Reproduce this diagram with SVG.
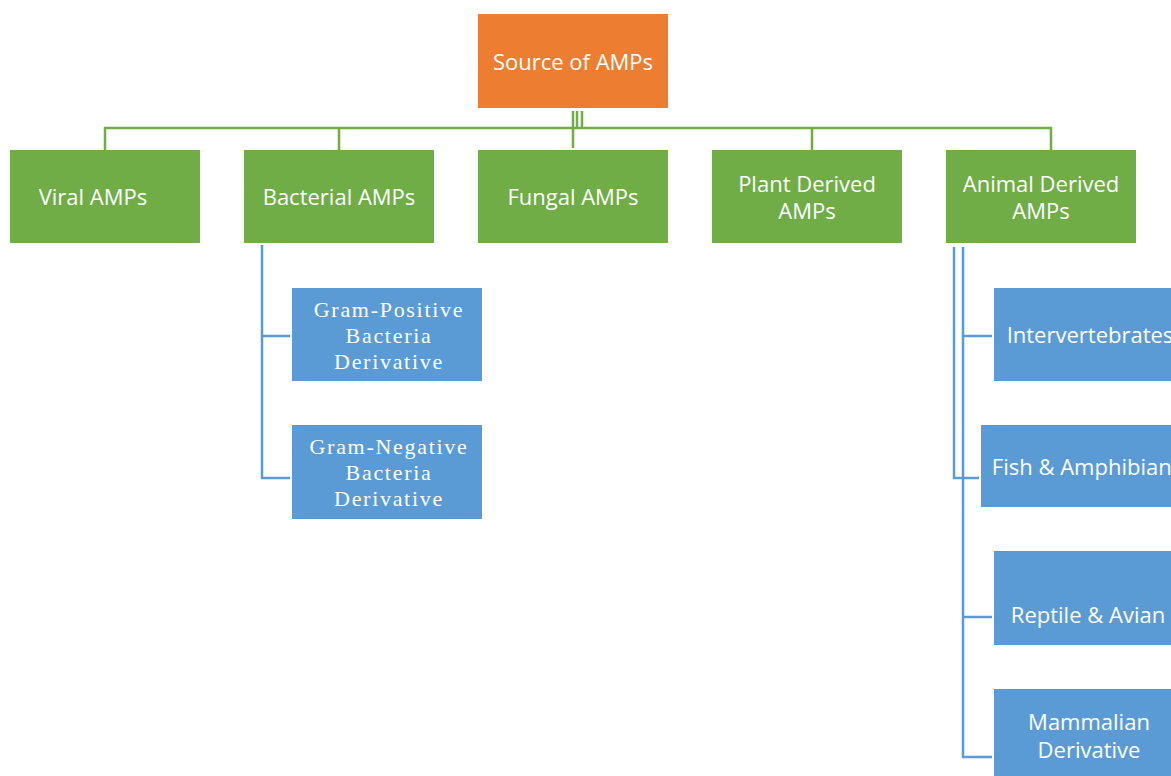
<svg xmlns="http://www.w3.org/2000/svg" width="1171" height="776" viewBox="0 0 1171 776">
<style>
.org{fill:#ED7D31}
.grn{fill:#70AD47}
.blu{fill:#5B9BD5}
.t{font-family:"Open Sans","Liberation Sans",sans-serif;font-size:22px;fill:#fff;text-anchor:middle;dominant-baseline:central}
.s{font-family:"Liberation Serif",serif;font-size:22px;fill:#fff;text-anchor:middle;letter-spacing:1.7px;dominant-baseline:central}
.gl{stroke:#70AD47;stroke-width:2.5;fill:none}
.bl{stroke:#5B9BD5;stroke-width:2.5;fill:none}
</style>
<rect width="1171" height="776" fill="#fff"/>
<g id="connectors">
<path class="gl" d="M573 111V128M577 111V128M582 111V128"/>
<path class="gl" d="M105 150V128H1051V150M339 128V150M573 128V148M812 128V150"/>
<path class="bl" d="M262 245V478H290M262 336H290"/>
<path class="bl" d="M954 247V478H979M963 247V757H992M963 336H992M963 617H992"/>
</g>
<g id="source"><rect class="org" x="478" y="14" width="190" height="94"/><text class="t" x="573" y="61">Source of AMPs</text></g>
<g id="viral"><rect class="grn" x="10" y="150" width="190" height="93"/><text class="t" x="93" y="196">Viral AMPs</text></g>
<g id="bacterial"><rect class="grn" x="244" y="150" width="190" height="93"/><text class="t" x="339" y="196">Bacterial AMPs</text></g>
<g id="fungal"><rect class="grn" x="478" y="150" width="190" height="93"/><text class="t" x="573" y="196">Fungal AMPs</text></g>
<g id="plant"><rect class="grn" x="712" y="150" width="190" height="93"/><text class="t" x="807" y="183">Plant Derived</text><text class="t" x="807" y="210">AMPs</text></g>
<g id="animal"><rect class="grn" x="946" y="150" width="190" height="93"/><text class="t" x="1041" y="183">Animal Derived</text><text class="t" x="1041" y="210">AMPs</text></g>
<g id="grampos"><rect class="blu" x="292" y="288" width="190" height="93"/><text class="s" x="389" y="309">Gram-Positive</text><text class="s" x="389" y="335">Bacteria</text><text class="s" x="389" y="361">Derivative</text></g>
<g id="gramneg"><rect class="blu" x="292" y="425" width="190" height="94"/><text class="s" x="389" y="446">Gram-Negative</text><text class="s" x="389" y="472">Bacteria</text><text class="s" x="389" y="498">Derivative</text></g>
<g id="invert"><rect class="blu" x="994" y="288" width="190" height="93"/><text class="t" x="1090" y="334">Intervertebrates</text></g>
<g id="fish"><rect class="blu" x="981" y="425" width="210" height="82"/><text class="t" x="1087" y="466">Fish &amp; Amphibians</text></g>
<g id="reptile"><rect class="blu" x="994" y="551" width="190" height="94"/><text class="t" x="1088" y="614">Reptile &amp; Avian</text></g>
<g id="mammal"><rect class="blu" x="994" y="689" width="190" height="90"/><text class="t" x="1089" y="721">Mammalian</text><text class="t" x="1089" y="749">Derivative</text></g>
</svg>
